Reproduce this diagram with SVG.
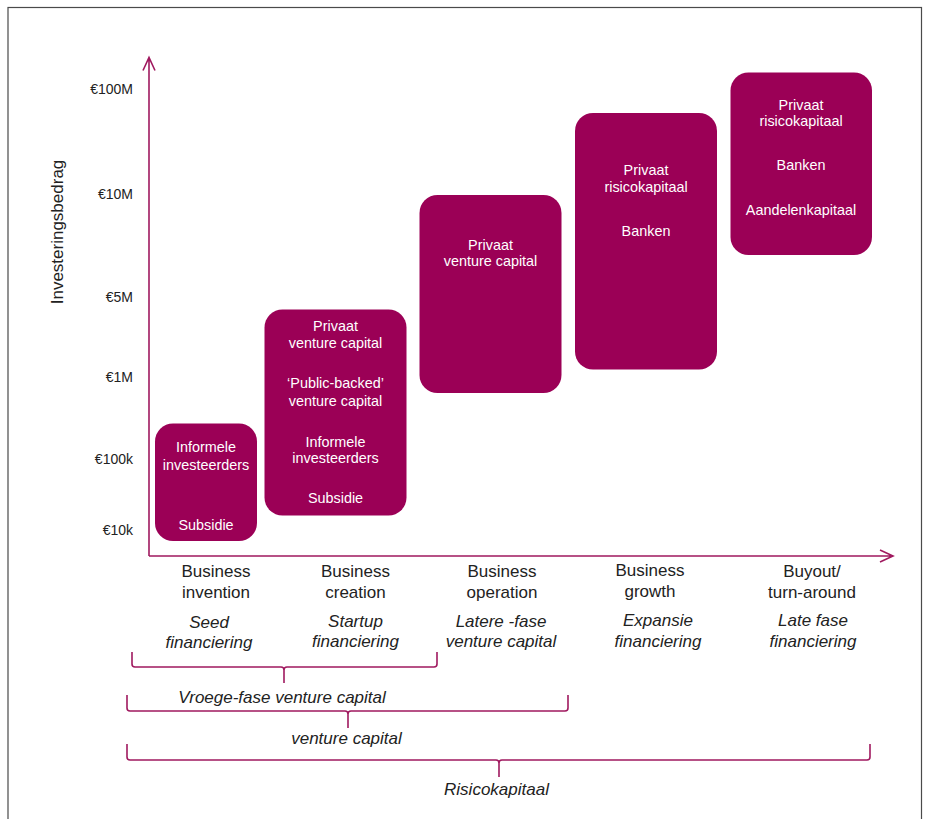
<svg xmlns="http://www.w3.org/2000/svg" width="928" height="819" viewBox="0 0 928 819">
<style>
.frame{fill:none;stroke:#4a4a4a;stroke-width:1.2}
.axis{fill:none;stroke:#a0195f;stroke-width:1.6}
.brace{fill:none;stroke:#a0195f;stroke-width:1.6;stroke-linejoin:round}
.box{fill:#9b0056}
.bt{font-family:"Liberation Sans",Arial,sans-serif;font-size:14.4px;fill:#fff;text-anchor:middle}
.yl{font-family:"Liberation Sans",Arial,sans-serif;font-size:14px;fill:#222;text-anchor:end}
.xl{font-family:"Liberation Sans",Arial,sans-serif;font-size:17px;fill:#222;text-anchor:middle}
.it{font-family:"Liberation Sans",Arial,sans-serif;font-size:17px;font-style:italic;fill:#222;text-anchor:middle}
</style>
<rect x="0" y="0" width="928" height="819" fill="#fff"/>
<rect class="frame" x="8" y="7.5" width="913.5" height="830"/>

<g id="connectors">
  <path class="axis" d="M149 556 L149 58 M143 70.5 L149 57.5 L155 70.5"/>
  <path class="axis" d="M149 556 L892 556 M880 550 L893 556 L880 562"/>
  <path class="brace" d="M132 652 L132 664 Q132 667 135 667 L281 667 Q284 667 284 670 L284 683 M284 670 Q284 667 287 667 L434 667 Q437 667 437 664 L437 652"/>
  <path class="brace" d="M127 695 L127 708 Q127 711 130 711 L345 711 Q348 711 348 714 L348 728 M348 714 Q348 711 351 711 L565 711 Q568 711 568 708 L568 695"/>
  <path class="brace" d="M127 744 L127 757 Q127 760 130 760 L496 760 Q499 760 499 763 L499 777 M499 763 Q499 760 502 760 L867 760 Q870 760 870 757 L870 744"/>
</g>

<g id="y-axis-labels">
  <text class="yl" x="133" y="94">€100M</text>
  <text class="yl" x="133" y="199">€10M</text>
  <text class="yl" x="133" y="302">€5M</text>
  <text class="yl" x="133" y="382">€1M</text>
  <text class="yl" x="133" y="464">€100k</text>
  <text class="yl" x="133" y="535">€10k</text>
  <text class="xl" transform="translate(63 232) rotate(-90)" x="0" y="0">Investeringsbedrag</text>
</g>

<g id="box-seed">
  <rect class="box" x="155" y="423.5" width="102" height="117.5" rx="18"/>
  <text class="bt" x="206" y="452">Informele</text>
  <text class="bt" x="206" y="469.5">investeerders</text>
  <text class="bt" x="206" y="530">Subsidie</text>
</g>

<g id="box-startup">
  <rect class="box" x="264.5" y="309.5" width="142" height="206" rx="18"/>
  <text class="bt" x="335.5" y="331">Privaat</text>
  <text class="bt" x="335.5" y="348">venture capital</text>
  <text class="bt" x="335.5" y="388">‘Public-backed’</text>
  <text class="bt" x="335.5" y="406">venture capital</text>
  <text class="bt" x="335.5" y="446.5">Informele</text>
  <text class="bt" x="335.5" y="463">investeerders</text>
  <text class="bt" x="335.5" y="503">Subsidie</text>
</g>

<g id="box-later">
  <rect class="box" x="419.5" y="195" width="142" height="198" rx="18"/>
  <text class="bt" x="490.5" y="250">Privaat</text>
  <text class="bt" x="490.5" y="266">venture capital</text>
</g>

<g id="box-expansion">
  <rect class="box" x="575" y="113" width="142" height="256.5" rx="18"/>
  <text class="bt" x="646" y="175">Privaat</text>
  <text class="bt" x="646" y="192">risicokapitaal</text>
  <text class="bt" x="646" y="235.5">Banken</text>
</g>

<g id="box-late">
  <rect class="box" x="730.5" y="72.5" width="141.5" height="182.5" rx="18"/>
  <text class="bt" x="801" y="110">Privaat</text>
  <text class="bt" x="801" y="126">risicokapitaal</text>
  <text class="bt" x="801" y="170">Banken</text>
  <text class="bt" x="801" y="215">Aandelenkapitaal</text>
</g>

<g id="x-axis-labels">
  <text class="xl" x="216" y="577">Business</text>
  <text class="xl" x="216" y="598">invention</text>
  <text class="it" x="209" y="628">Seed</text>
  <text class="it" x="209" y="648">financiering</text>

  <text class="xl" x="355.5" y="577">Business</text>
  <text class="xl" x="355.5" y="598">creation</text>
  <text class="it" x="355.5" y="627">Startup</text>
  <text class="it" x="355.5" y="647">financiering</text>

  <text class="xl" x="502" y="577">Business</text>
  <text class="xl" x="502" y="598">operation</text>
  <text class="it" x="501" y="627">Latere -fase</text>
  <text class="it" x="501" y="647">venture capital</text>

  <text class="xl" x="650" y="576">Business</text>
  <text class="xl" x="650" y="597">growth</text>
  <text class="it" x="658" y="626">Expansie</text>
  <text class="it" x="658" y="647">financiering</text>

  <text class="xl" x="812" y="577">Buyout/</text>
  <text class="xl" x="812" y="598">turn-around</text>
  <text class="it" x="813" y="626">Late fase</text>
  <text class="it" x="813" y="647">financiering</text>
</g>

<g id="brace-labels">
  <text class="it" x="282" y="703">Vroege-fase venture capital</text>
  <text class="it" x="346.5" y="744">venture capital</text>
  <text class="it" x="496.5" y="795">Risicokapitaal</text>
</g>
</svg>
